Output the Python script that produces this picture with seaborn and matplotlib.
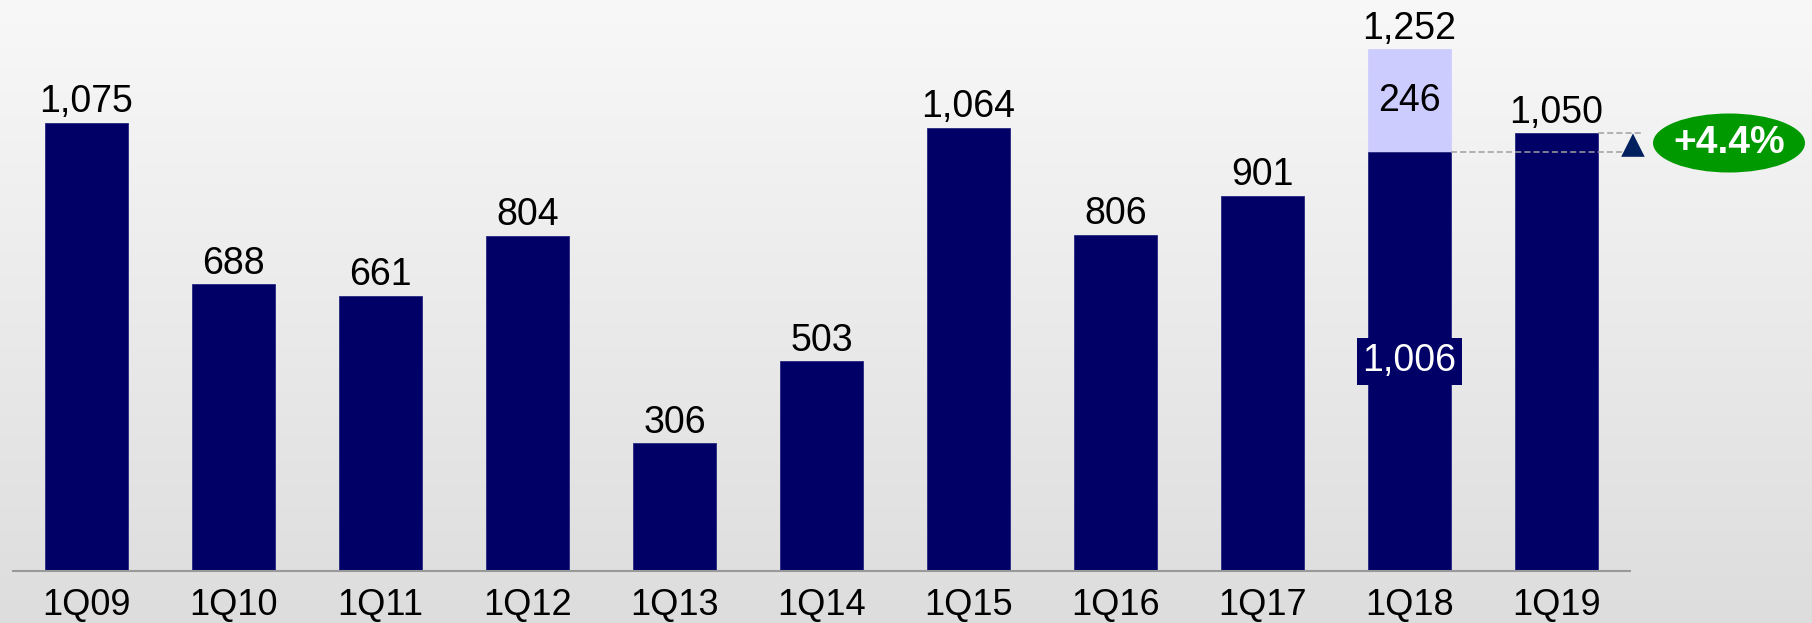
import numpy as np
import pandas as pd
import matplotlib
matplotlib.use("Agg")
import matplotlib.pyplot as plt
import seaborn as sns
from matplotlib.patches import Ellipse, Polygon

# Quarterly values
quarters = ["1Q09", "1Q10", "1Q11", "1Q12", "1Q13", "1Q14",
            "1Q15", "1Q16", "1Q17", "1Q18", "1Q19"]
base_values = [1075, 688, 661, 804, 306, 503, 1064, 806, 901, 1006, 1050]
extra_values = [0, 0, 0, 0, 0, 0, 0, 0, 0, 246, 0]

NAVY = "#000066"
LIGHT = "#ccccff"

sns.set_theme(style="white")
plt.rcParams["font.family"] = ["Liberation Sans", "DejaVu Sans"]

df = pd.DataFrame({
    "quarter": quarters,
    "base": base_values,
    "total": [b + e for b, e in zip(base_values, extra_values)],
})

W, H = 1812, 623
fig = plt.figure(figsize=(W / 100, H / 100), dpi=100)

# Soft vertical gradient behind everything
bg = fig.add_axes([0, 0, 1, 1], zorder=0)
grad = np.linspace(248, 221, 256).reshape(-1, 1) / 255.0
bg.imshow(np.dstack([grad, grad, grad]), aspect="auto", extent=[0, 1, 0, 1])
bg.set_axis_off()

left = 13 / W
right = 1630 / W
bottom = (H - 571) / H
ax = fig.add_axes([left, bottom, right - left, 1 - bottom], zorder=1)
ax.patch.set_alpha(0)

bar_w = 0.565
sns.barplot(data=df, x="quarter", y="total", color=LIGHT, width=bar_w,
            saturation=1, ax=ax, edgecolor=LIGHT, linewidth=0.5)
sns.barplot(data=df, x="quarter", y="base", color=NAVY, width=bar_w,
            saturation=1, ax=ax, edgecolor="#2a2a80", linewidth=0.6)

ymax = 571 / 0.4167
ax.set_xlim(-0.5, len(quarters) - 0.5)
ax.set_ylim(0, ymax)
ax.set_xlabel("")
ax.set_ylabel("")
ax.set_yticks([])
ax.tick_params(axis="x", length=0, pad=12, labelsize=26, colors="black")
for s in ["top", "right", "left"]:
    ax.spines[s].set_visible(False)
ax.spines["bottom"].set_color("#999999")
ax.spines["bottom"].set_linewidth(1.5)

fs = 27
for i, (b, e) in enumerate(zip(base_values, extra_values)):
    tot = b + e
    ax.annotate(f"{tot:,}", (i, tot), xytext=(0, 2), textcoords="offset points",
                ha="center", va="bottom", fontsize=fs, color="black")
    if e > 0:
        ax.text(i, b + e / 2, f"{e:,}", ha="center", va="center",
                fontsize=fs, color="black")
        ax.text(i, b / 2, f"{b:,}", ha="center", va="center", fontsize=fs,
                color="white",
                bbox=dict(boxstyle="square,pad=0.15", fc=NAVY, ec="none"))

# Year-over-year comparison between the last two quarters
prev_v = base_values[-2]
last_v = base_values[-1]
growth = (last_v / prev_v - 1) * 100
x_end = 10.59
ax.plot([9 + bar_w / 2, x_end], [prev_v, prev_v], ls=(0, (4, 2)),
        color="#a0a0a0", lw=1.1, clip_on=False, zorder=3)
ax.plot([10 + bar_w / 2, x_end], [last_v, last_v], ls=(0, (4, 2)),
        color="#a0a0a0", lw=1.1, clip_on=False, zorder=3)
tri = Polygon([[10.44, prev_v - 12], [10.60, prev_v - 12], [10.52, last_v]],
              closed=True, fc="#002060", ec="none", clip_on=False, zorder=4)
ax.add_patch(tri)

ell = Ellipse((1729 / W, 1 - 143 / H), 152 / W, 59 / H,
              transform=fig.transFigure, fc="#009900", ec="none", zorder=5)
fig.patches.append(ell)
fig.text(1729 / W, 1 - 143 / H, f"+{growth:.1f}%", ha="center", va="center",
         fontsize=28, fontweight="bold", color="white", zorder=6)

fig.savefig("out.png", dpi=100)
